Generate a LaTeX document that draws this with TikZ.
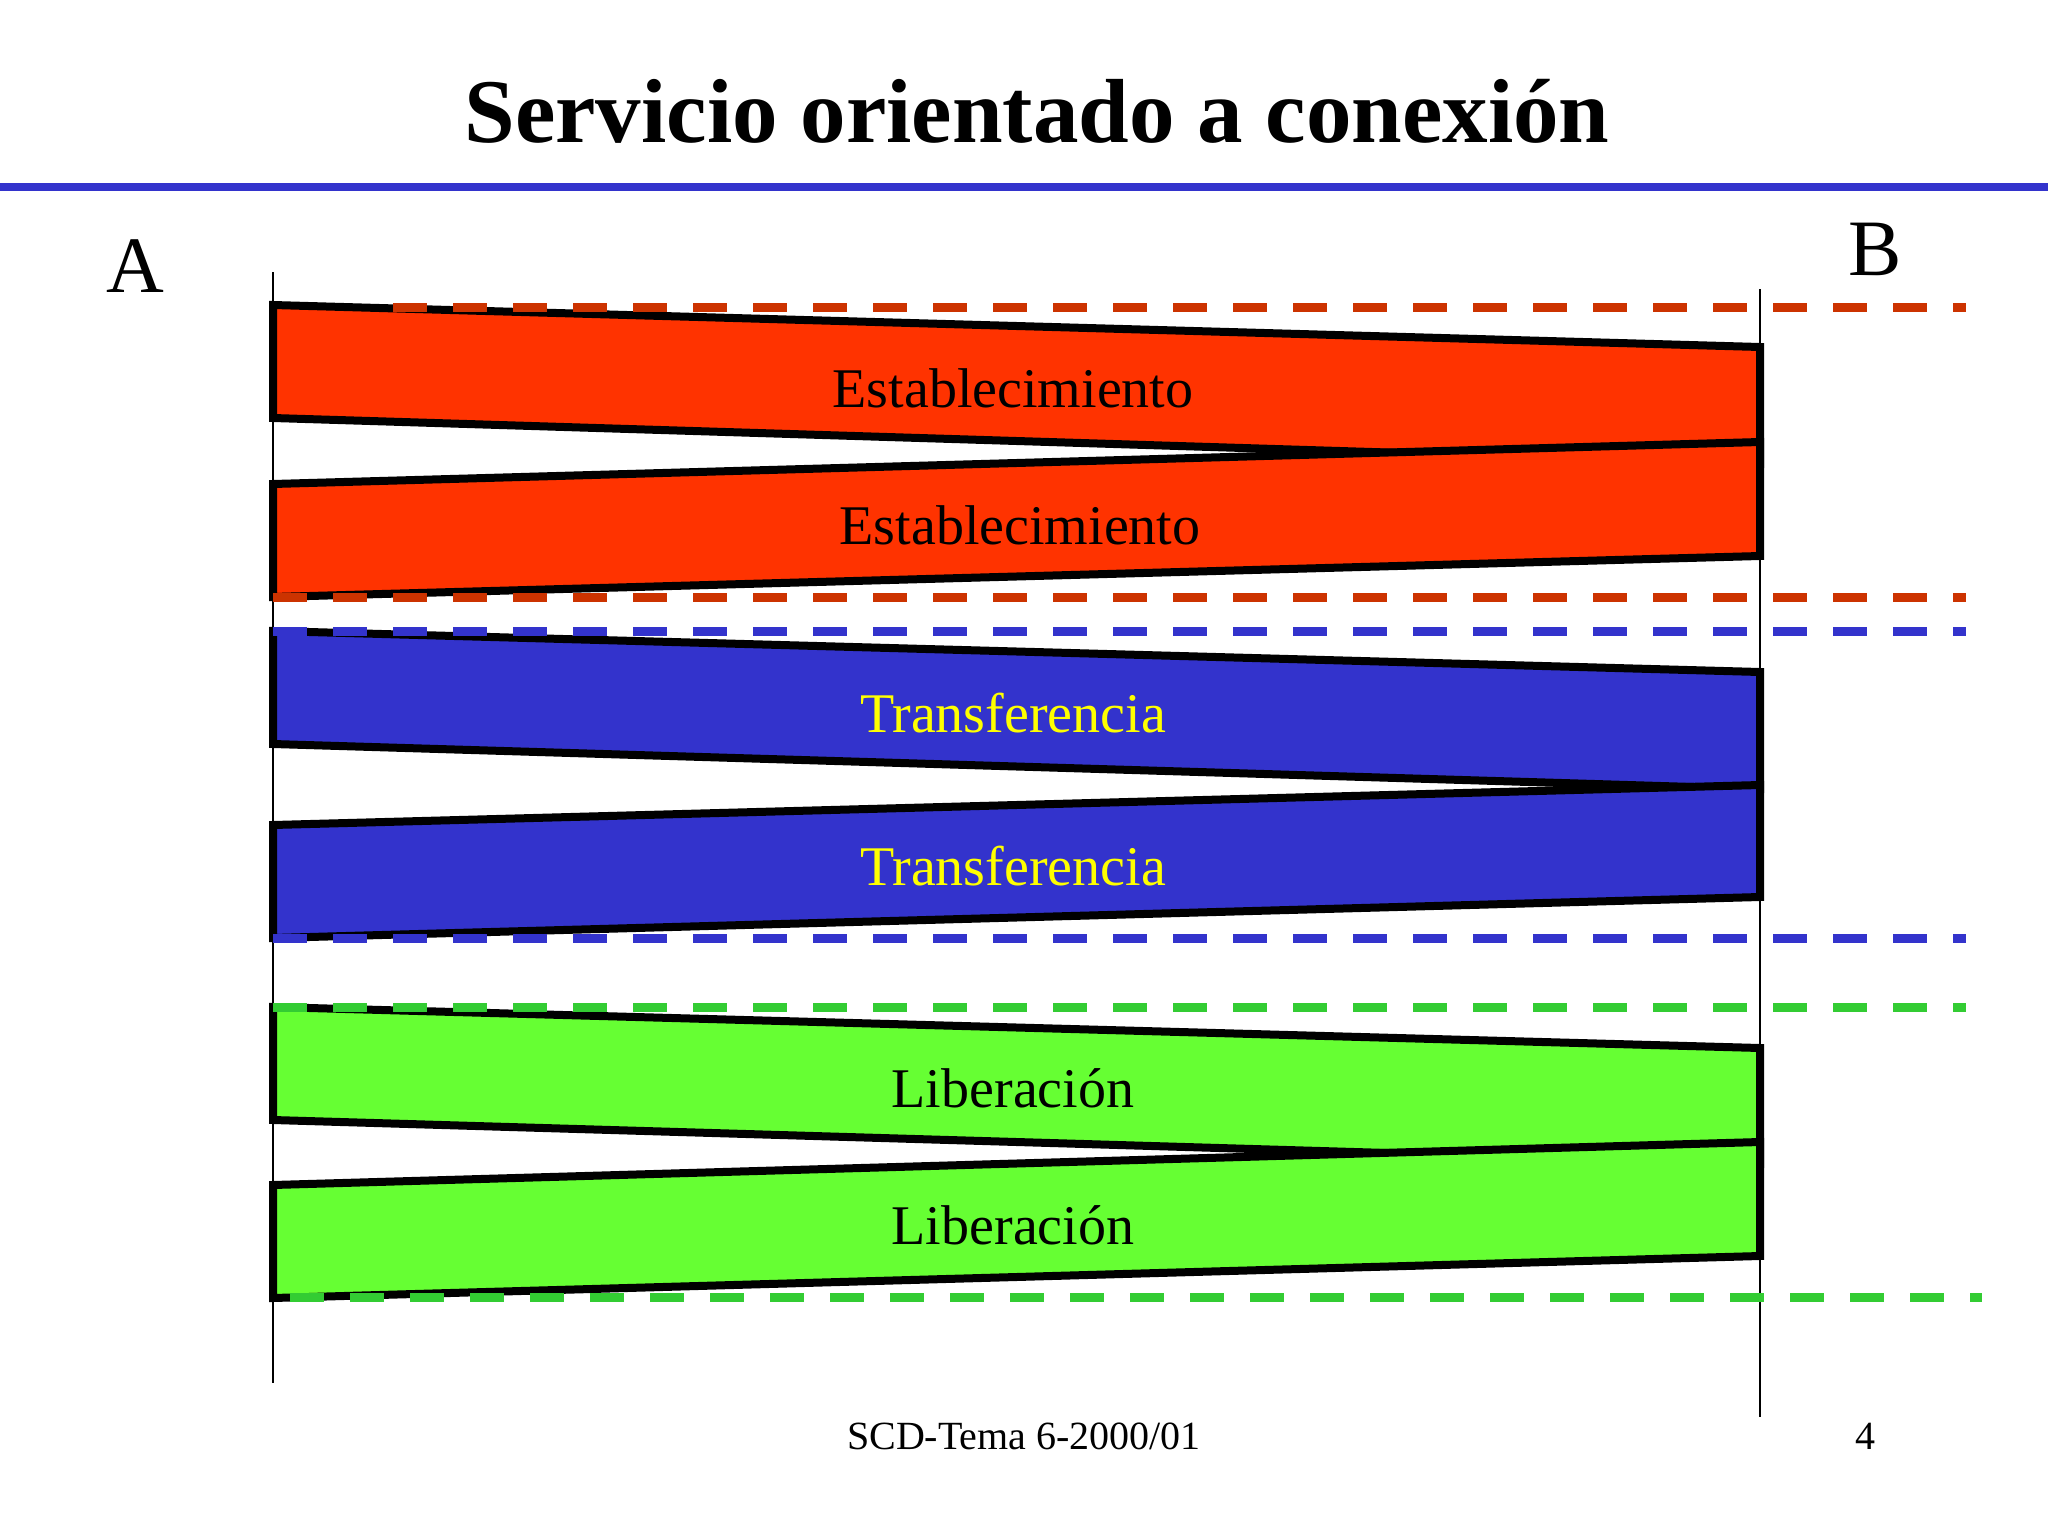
\documentclass[tikz,border=0pt]{standalone}
\usepackage{fontspec}
\setmainfont{Liberation Serif}
\usepackage{tikz}

\definecolor{estfill}{HTML}{FF3300}
\definecolor{estdash}{HTML}{CC3300}
\definecolor{trffill}{HTML}{3333CC}
\definecolor{trftext}{HTML}{FFFF00}
\definecolor{libfill}{HTML}{66FF33}
\definecolor{libdash}{HTML}{33CC33}

\tikzset{
  band/.style={draw=black, line width=8pt, line join=miter},
  guide/.style={line width=9pt, dash pattern=on 34pt off 26pt},
  lifeline/.style={draw=black, line width=2pt},
  lbl/.style={font=\fontsize{56}{60}\selectfont, inner sep=0pt}
}

\begin{document}
\begin{tikzpicture}[x=1pt,y=-1pt]
\useasboundingbox (0,0) rectangle (2048,1533);
\node[font=\fontsize{91}{100}\selectfont\bfseries, anchor=base, inner sep=0pt] (title) at (1037,143) {Servicio orientado a conexión};
\draw[trffill, line width=8pt] (0,187) -- (2048,187);
\node[font=\fontsize{80}{90}\selectfont, anchor=base, inner sep=0pt] (sa) at (135,292) {A};
\node[font=\fontsize{80}{90}\selectfont, anchor=base, inner sep=0pt] (sb) at (1875,275) {B};
\coordinate (a0) at (273,272);
\coordinate (a1) at (273,1383);
\coordinate (b0) at (1760,289);
\coordinate (b1) at (1760,1417);
\draw[lifeline] (a0) -- (a1);
\draw[lifeline] (b0) -- (b1);

\draw[band, fill=estfill] (273,305) -- (1760,347) -- (1760,464) -- (273,418) -- cycle;
\draw[band, fill=estfill] (273,484) -- (1760,442) -- (1760,556) -- (273,597) -- cycle;
\draw[band, fill=trffill] (273,631) -- (1760,672) -- (1760,789) -- (273,744) -- cycle;
\draw[band, fill=trffill] (273,825) -- (1760,785) -- (1760,897) -- (273,938) -- cycle;
\draw[band, fill=libfill] (273,1007) -- (1760,1048) -- (1760,1164) -- (273,1120) -- cycle;
\draw[band, fill=libfill] (273,1185) -- (1760,1142) -- (1760,1256) -- (273,1298) -- cycle;

\draw[guide, estdash] (393,307) -- (1966,307);
\draw[guide, estdash] (273,597) -- (1966,597);
\draw[guide, trffill] (273,631.5) -- (1966,631.5);
\draw[guide, trffill] (273,938.5) -- (1966,938.5);
\draw[guide, libdash] (273,1007) -- (1966,1007);
\draw[guide, libdash] (290,1297.5) -- (1982,1297.5);

\node[lbl] (est1) at (1013,388) {Establecimiento};
\node[lbl] (est2) at (1020,525) {Establecimiento};
\node[lbl, text=trftext] (trf1) at (1013,713) {Transferencia};
\node[lbl, text=trftext] (trf2) at (1013,866) {Transferencia};
\node[lbl] (lib1) at (1013,1088) {Liberación};
\node[lbl] (lib2) at (1013,1225) {Liberación};

\node[font=\fontsize{40}{44}\selectfont, anchor=base, inner sep=0pt] (foot) at (1024,1449) {SCD-Tema 6-2000/01};
\node[font=\fontsize{40}{44}\selectfont, anchor=base, inner sep=0pt] (page) at (1865,1449) {4};
\end{tikzpicture}
\end{document}
